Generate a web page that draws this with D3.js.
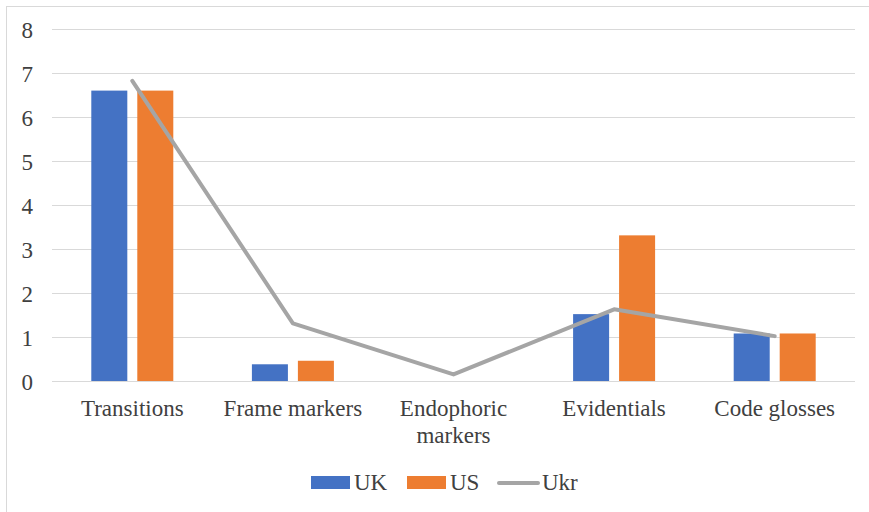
<!DOCTYPE html>
<html>
<head>
<meta charset="utf-8">
<script src="https://cdn.jsdelivr.net/npm/d3@7"></script>
<style>
  html, body { margin: 0; padding: 0; background: #fff; }
  svg, svg text, svg tspan { font-family: "Liberation Serif", Tinos, "Times New Roman", serif !important; }
</style>
</head>
<body>
<svg id="chart" width="869" height="512" font-family="Liberation Serif"></svg>
<script>
// Metadiscourse categories and per-corpus frequencies
const categories = ["Transitions", "Frame markers", "Endophoric markers", "Evidentials", "Code glosses"];
const categoryLines = [["Transitions"], ["Frame markers"], ["Endophoric", "markers"], ["Evidentials"], ["Code glosses"]];
const ukValues  = [6.6, 0.38, 0, 1.52, 1.08];
const usValues  = [6.6, 0.46, 0, 3.31, 1.08];
const ukrValues = [6.82, 1.31, 0.15, 1.63, 1.02];
const yTicks = [0, 1, 2, 3, 4, 5, 6, 7, 8];
const barSeries = ["UK", "US"];

const colors = { UK: "#4472C4", US: "#ED7D31", Ukr: "#A5A5A5" };
const FONT = '"Liberation Serif", Tinos, "Times New Roman", serif';
const TEXT_COLOR = "#404040";

const svg = d3.select("#chart");

// apply the serif face to a text selection
function serif(sel) {
  sel.attr("font-family", "Liberation Serif")
    .style("font-family", FONT, "important")
    .style("font-size", "23px")
    .style("fill", TEXT_COLOR);
  return sel;
}

// outer chart frame
svg.append("rect")
  .attr("x", 6.5).attr("y", 6.5)
  .attr("width", 880).attr("height", 520)
  .attr("fill", "none").attr("stroke", "#D9D9D9").attr("stroke-width", 1);

const plot = { left: 52, right: 855, top: 29, bottom: 381 };

const x = d3.scaleBand().domain(categories).range([plot.left, plot.right]).paddingInner(0).paddingOuter(0);
const y = d3.scaleLinear().domain([0, 8]).range([plot.bottom, plot.top]);

// bar offset within each category, centred on the band
const sub = d3.scaleBand().domain(barSeries).range([-41, 41]).paddingInner(0.217).paddingOuter(0);

// horizontal gridlines
svg.append("g")
  .selectAll("line")
  .data(yTicks)
  .join("line")
  .attr("x1", plot.left).attr("x2", plot.right)
  .attr("y1", d => Math.round(y(d)) + 0.5).attr("y2", d => Math.round(y(d)) + 0.5)
  .attr("stroke", "#D9D9D9").attr("stroke-width", 1);

// y axis labels
const yAxis = d3.axisLeft(y).tickValues(yTicks).tickSize(0).tickPadding(0).tickFormat(d3.format("d"));
const yg = svg.append("g").attr("transform", "translate(33,0)").call(yAxis)
  .attr("font-family", "Liberation Serif").attr("font-size", 23);
yg.select(".domain").remove();
serif(yg.selectAll("text")).attr("dy", "0.36em");

// bars
const barData = [];
categories.forEach((c, i) => {
  barData.push({ cat: c, series: "UK", value: ukValues[i] });
  barData.push({ cat: c, series: "US", value: usValues[i] });
});

svg.append("g")
  .selectAll("rect")
  .data(barData.filter(d => d.value > 0))
  .join("rect")
  .attr("x", d => x(d.cat) + x.bandwidth() / 2 + sub(d.series))
  .attr("width", sub.bandwidth())
  .attr("y", d => y(d.value))
  .attr("height", d => y(0) - y(d.value))
  .attr("fill", d => colors[d.series]);

// Ukr line
const line = d3.line()
  .x((d, i) => x(categories[i]) + x.bandwidth() / 2)
  .y(d => y(d));

svg.append("path")
  .datum(ukrValues)
  .attr("d", line)
  .attr("fill", "none")
  .attr("stroke", colors.Ukr)
  .attr("stroke-width", 4)
  .attr("stroke-linejoin", "round")
  .attr("stroke-linecap", "round");

// category labels
const catG = serif(svg.append("g")
  .selectAll("text")
  .data(categories)
  .join("text"))
  .attr("text-anchor", "middle")
  .attr("x", d => x(d) + x.bandwidth() / 2)
  .attr("y", 416);
catG.selectAll("tspan")
  .data((d, i) => categoryLines[i])
  .join("tspan")
  .attr("x", function () { return d3.select(this.parentNode).attr("x"); })
  .attr("dy", (d, j) => j === 0 ? 0 : 27)
  .text(d => d);

// legend
const legend = svg.append("g");
const legendItems = [
  { key: "UK", type: "rect", x: 311, tx: 354 },
  { key: "US", type: "rect", x: 407, tx: 450 },
  { key: "Ukr", type: "line", x: 497, tx: 542 }
];
legendItems.forEach(it => {
  if (it.type === "rect") {
    legend.append("rect")
      .attr("x", it.x).attr("y", 476)
      .attr("width", 39).attr("height", 13)
      .attr("fill", colors[it.key]);
  } else {
    legend.append("line")
      .attr("x1", it.x + 2).attr("x2", it.x + 41)
      .attr("y1", 483).attr("y2", 483)
      .attr("stroke", colors[it.key]).attr("stroke-width", 4)
      .attr("stroke-linecap", "round");
  }
  serif(legend.append("text"))
    .attr("x", it.tx).attr("y", 490)
    .text(it.key);
});
</script>
</body>
</html>
